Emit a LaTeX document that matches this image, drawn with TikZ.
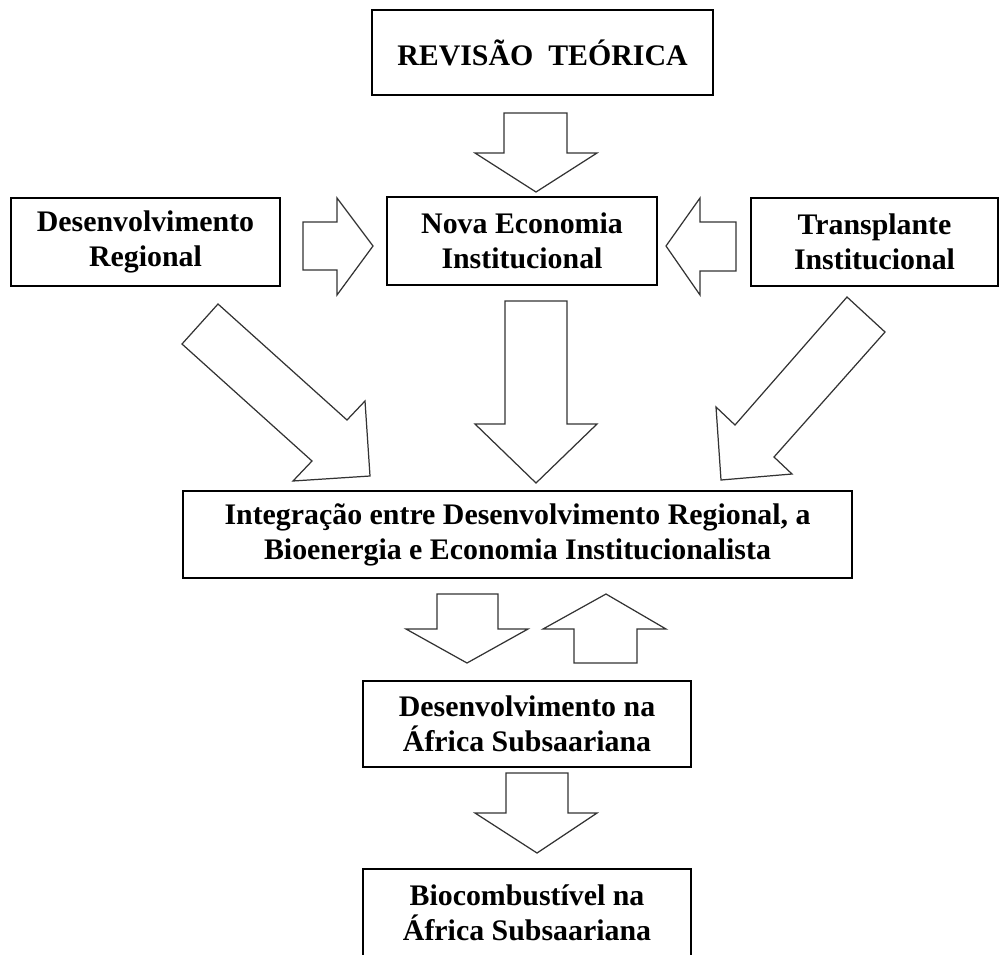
\documentclass[tikz,border=0pt]{standalone}
\usepackage{fontspec}
\setmainfont{Liberation Serif}
\begin{document}
\begin{tikzpicture}[x=0.02cm, y=-0.02cm,
    box/.style={draw, line width=1pt, align=center, inner sep=0pt,
      font=\fontsize{17}{20}\selectfont\bfseries},
    blockarrow/.style={draw=black!80, line width=0.7pt, fill=white}]
  \useasboundingbox (0,0) rectangle (1000,954);
  \clip (0,0) rectangle (1000,954);

  % caixas
  \node[box, minimum width=6.82cm, minimum height=1.70cm] (revisao) at (542.5,52.5) {REVISÃO\ \ TEÓRICA};
  \node[box, minimum width=5.40cm, minimum height=1.76cm] (nova) at (522,241) {Nova Economia\\Institucional};
  \node[box, minimum width=5.38cm, minimum height=1.76cm] (desreg) at (145.5,242) {Desenvolvimento\\Regional};
  \node[box, minimum width=4.94cm, minimum height=1.76cm] (transp) at (874.5,242) {Transplante\\Institucional};
  \node[box, minimum width=13.38cm, minimum height=1.74cm] (integ) at (517.5,534.5) {Integração entre Desenvolvimento Regional, a\\Bioenergia e Economia Institucionalista};
  \node[box, minimum width=6.56cm, minimum height=1.72cm] (desafr) at (527,724) {Desenvolvimento na\\África Subsaariana};
  \node[box, minimum width=6.56cm, minimum height=1.74cm] (biocomb) at (527,912.5) {Biocombustível na\\África Subsaariana};

  % setas largas
  \draw[blockarrow] (504,113) -- (567,113) -- (567,153) -- (597,153) -- (536,192) -- (475,153) -- (504,153) -- cycle;
  \draw[blockarrow] (303,222) -- (337,222) -- (337,198) -- (373,246) -- (337,295) -- (337,270) -- (303,270) -- cycle;
  \draw[blockarrow] (736,222) -- (700,222) -- (700,198) -- (666,246) -- (700,295) -- (700,271) -- (736,271) -- cycle;
  \draw[blockarrow] (505,301) -- (567,301) -- (567,424) -- (597,424) -- (536,483) -- (475,424) -- (505,424) -- cycle;
  \draw[blockarrow] (218,304) -- (347,420) -- (365,401) -- (370,476) -- (293,481) -- (312,461) -- (182,344) -- cycle;
  \draw[blockarrow] (847,297) -- (735,425) -- (716,407) -- (721,480) -- (792,474) -- (774,457) -- (885,332) -- cycle;
  \draw[blockarrow] (437,594) -- (498,594) -- (498,629) -- (528,629) -- (467,663) -- (406,629) -- (437,629) -- cycle;
  \draw[blockarrow] (574,663) -- (637,663) -- (637,629) -- (666,629) -- (606,594) -- (543,629) -- (574,629) -- cycle;
  \draw[blockarrow] (506,773) -- (568,773) -- (568,813) -- (597,813) -- (537,853) -- (475,813) -- (506,813) -- cycle;
\end{tikzpicture}
\end{document}
